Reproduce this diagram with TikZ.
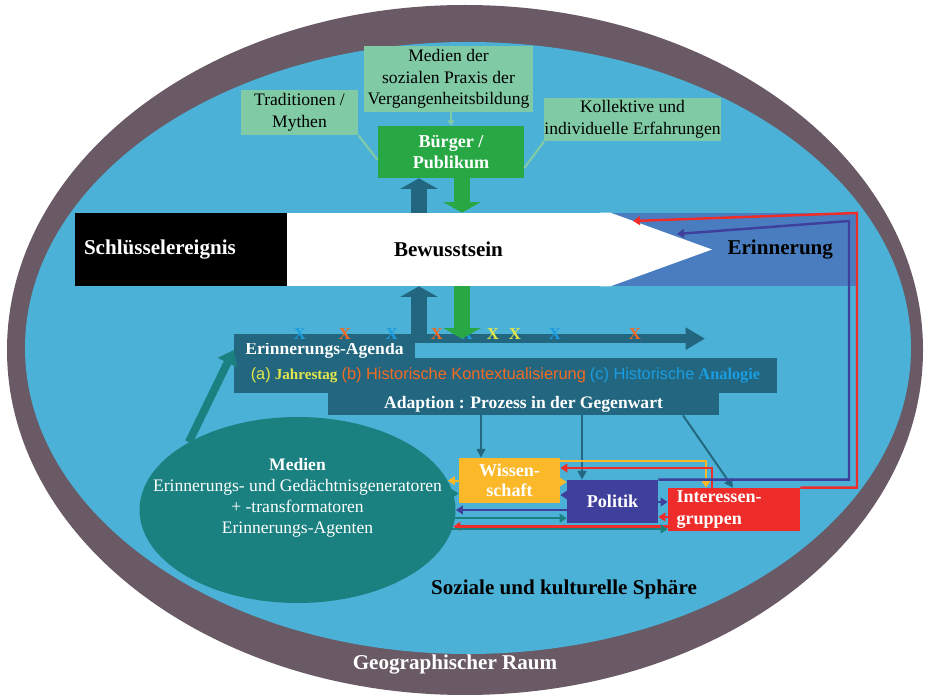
\documentclass[tikz,border=0pt]{standalone}
\usepackage{fontspec}
\setmainfont{Liberation Serif}
\newfontfamily\arial{Liberation Sans}
\usetikzlibrary{arrows.meta,shapes.geometric}

\definecolor{raumgrau}{HTML}{695A66}
\definecolor{sphaere}{HTML}{4BB1D6}
\definecolor{hellgruen}{HTML}{80CBA5}
\definecolor{buergergruen}{HTML}{27A844}
\definecolor{agendablau}{HTML}{22677F}
\definecolor{medientuerkis}{HTML}{1A8080}
\definecolor{erinnerungsblau}{HTML}{4A7DC0}
\definecolor{wissgelb}{HTML}{FBB829}
\definecolor{politikblau}{HTML}{3F3F9C}
\definecolor{interrot}{HTML}{EE2D2A}
\definecolor{xgelb}{HTML}{E4E64A}
\definecolor{xorange}{HTML}{F26A24}
\definecolor{xblau}{HTML}{1B9DE2}

\newcommand{\grossfont}{\fontsize{12}{14}\selectfont\bfseries}
\newcommand{\boxfont}{\fontsize{10}{12.2}\selectfont}
\newcommand{\kastenfont}{\fontsize{10.3}{11.6}\selectfont\bfseries}
\newcommand{\agendafont}{\fontsize{10}{12}\selectfont\bfseries}
\newcommand{\medienfont}{\fontsize{10}{12}\selectfont}
\newcommand{\xfont}{\fontsize{9.5}{11}\selectfont\bfseries}

\begin{document}
\begin{tikzpicture}[x=0.02cm, y=-0.02cm,
    quelle/.style={fill=hellgruen, align=center, inner sep=0pt, font=\boxfont},
    kasten/.style={text=white, inner sep=0pt, font=\kastenfont, align=center},
    quellinie/.style={hellgruen, line width=1.2pt},
    dicker/.style={line width=9pt, -{Triangle[width=21pt,length=6pt]}},
    steuer/.style={agendablau, line width=1.1pt, -{Triangle[width=5pt,length=5pt]}},
    fluss/.style={line width=1.4pt, -{Triangle[width=5pt,length=4pt]}}]
  \useasboundingbox (0,0) rectangle (926,695);
  \fill[white] (0,0) rectangle (926,695);

  % raum und sphaere
  \fill[raumgrau] (465,350) ellipse [x radius=458, y radius=345];
  \fill[sphaere] (468,348) ellipse [x radius=443, y radius=306];

  % buerger und quellen
  \node[quelle, minimum width=2.34cm, minimum height=0.9cm] (trad) at (299.5,112.5) {Traditionen /\\Mythen};
  \node[quelle, minimum width=3.38cm, minimum height=1.32cm] (praxis) at (448.5,79) {Medien der\\sozialen Praxis der\\Vergangenheitsbildung};
  \node[quelle, minimum width=3.5cm, minimum height=0.86cm] (erfahr) at (632.5,119.5) {Kollektive und\\individuelle Erfahrungen};
  \node[kasten, fill=buergergruen, minimum width=2.92cm, minimum height=1.04cm] (buerger) at (451,152) {Bürger /\\Publikum};
  \draw[quellinie] (trad.south east) -- (buerger.west |- 0,160);
  \draw[quellinie, -{Triangle[width=4pt,length=3pt]}] (buerger.north |- praxis.south) -- (buerger.north);
  \draw[quellinie] (erfahr.south west) -- (buerger.east |- 0,168);

  % balken
  \node[fill=erinnerungsblau, minimum height=1.46cm, inner xsep=0.48cm, inner ysep=0pt, text width=3.98cm, align=right, font=\grossfont] (erinnerung) at (733.5,249.5) {Erinnerung};
  \node[fill=white, minimum width=6.46cm, minimum height=1.46cm, inner sep=0pt, font=\grossfont] (bewusst) at (448.5,249.5) {Bewusstsein};
  \fill[white] (bewusst.north -| 600,0) -- (bewusst.north east) -- (bewusst.east -| 712,0) -- (bewusst.south east) -- (bewusst.south -| 600,0) -- cycle;
  \node[fill=black, text=white, minimum height=1.46cm, inner xsep=0.18cm, inner ysep=0pt, text width=3.88cm, align=left, font=\grossfont] (schluessel) at (181,249.5) {Schlüsselereignis};

  % agenda
  \node[fill=agendablau, minimum width=3.62cm, minimum height=0.44cm, inner sep=0pt, text=white, font=\agendafont] (agenda) at (324.5,350) {Erinnerungs-Agenda};
  \node[fill=agendablau, minimum width=10.86cm, minimum height=0.7cm, inner sep=0pt, font=\fontsize{9.3}{11}\selectfont] (kategorien) at (505.5,375.5)
    {{\color{xgelb}{\arial (a)} {\bfseries\fontsize{8.6}{10}\selectfont Jahrestag}} {\color{xorange}\arial (b) Historische Kontextualisierung} {\color{xblau}\arial (c) Historische} {\color{xblau}\bfseries Analogie}};
  \node[fill=agendablau, minimum width=7.82cm, minimum height=0.44cm, inner sep=0pt, text=white, font=\agendafont] (adaption) at (523.5,404) {Adaption : Prozess in der Gegenwart};
  \draw[agendablau, line width=5pt, -{Triangle[width=12pt,length=11pt]}] (agenda.north west) -- (agenda.north -| 705,0);
  \foreach \xpos/\farbe in {300/xblau,345/xorange,392/xblau,437/xorange,467/xblau,493/xgelb,515/xgelb,555/xblau,635/xorange}
    \node[text=\farbe, font=\xfont, inner sep=0pt] (x\xpos) at (\xpos,334) {X};

  \draw[dicker, agendablau] (bewusst.north -| 419,0) -- (buerger.south -| 419,0);
  \draw[dicker, buergergruen] (buerger.south -| 462,0) -- (bewusst.north -| 462,0);
  \draw[dicker, agendablau] (agenda.north -| 419,0) -- (bewusst.south -| 419,0);
  \draw[dicker, buergergruen] (bewusst.south -| 462,0) -- (agenda.north -| 462,0);

  % medien
  \node[ellipse, fill=medientuerkis, minimum width=6.32cm, minimum height=3.72cm, inner sep=0pt] (medien) at (297.5,510) {};
  \node[text=white, align=center, font=\medienfont] (medientext) at (297.5,498) {{\bfseries Medien}\\Erinnerungs- und Gedächtnisgeneratoren\\+ -transformatoren\\Erinnerungs-Agenten};
  \draw[medientuerkis, line width=4.5pt, -{Triangle[width=12pt,length=8pt]}] (medien.148) -- (agenda.west);

  % akteure
  \node[kasten, fill=wissgelb, minimum width=2.02cm, minimum height=0.9cm] (wiss) at (509.5,480.5) {Wissen-\\schaft};
  \node[kasten, fill=politikblau, minimum width=1.82cm, minimum height=0.86cm] (politik) at (612.5,501.5) {Politik};
  \node[kasten, fill=interrot, minimum width=2.64cm, minimum height=0.86cm, text width=2.3cm, align=left, font=\fontsize{10.3}{12.4}\selectfont\bfseries] (interessen) at (734,509.5) {Interessen-\\gruppen};

  \draw[steuer] (adaption.south -| 481,0) -- (wiss.north -| 481,0);
  \draw[steuer] (adaption.south -| 582,0) -- (politik.north -| 582,0);
  \draw[steuer] (adaption.south -| 683,0) -- (interessen.north -| 733,0);

  \draw[fluss, wissgelb] (wiss.east |- 0,461) -| (interessen.north -| 706,0);
  \draw[fluss, interrot] (interessen.north -| 712,0) |- (wiss.east |- 0,468);
  \draw[fluss, wissgelb] (wiss.west |- medien.11) -- (medien.11);
  \draw[fluss, medientuerkis] (medien.6) -- (medien.6 -| wiss.west);
  \draw[fluss, wissgelb] (wiss.east |- 0,482) -- (politik.west |- 0,482);
  \draw[fluss, politikblau] (politik.west |- 0,495) -- (wiss.east |- 0,495);
  \draw[fluss, politikblau] (politik.west |- medien.0) -- (medien.0);
  \draw[fluss, medientuerkis] (medien.-3) -- (medien.-3 -| politik.west);
  \draw[fluss, interrot] (interessen.west |- medien.-6) -- (medien.-6);
  \draw[fluss, medientuerkis] (medien.-7) -- (medien.-7 -| interessen.west);
  \draw[fluss, politikblau] (politik.east |- 0,502) -- (interessen.west |- 0,502);
  \draw[fluss, interrot] (interessen.west |- 0,517) -- (politik.east |- 0,517);

  % rueckkopplung zur erinnerung
  \coordinate (rotende) at (633,221);
  \coordinate (blauende) at (677,234);
  \draw[fluss, politikblau] (politik.north east) -| (849,221) -- (blauende);
  \draw[fluss, interrot] (interessen.north east) -| (857,213) -- (rotende);

  \node[font=\grossfont] (sphaerentext) at (564,589) {Soziale und kulturelle Sphäre};
  \node[font=\grossfont, text=white] (raumtext) at (455,665) {Geographischer Raum};
\end{tikzpicture}
\end{document}
